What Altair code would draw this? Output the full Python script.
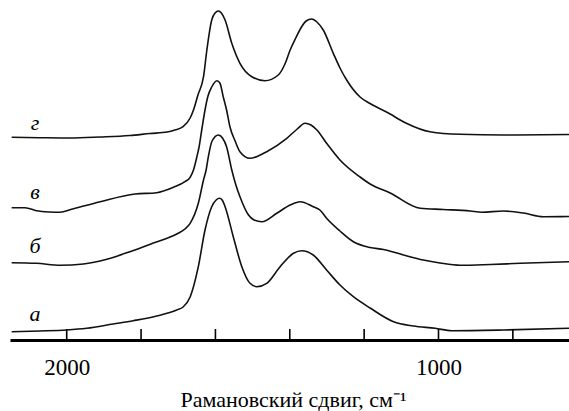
import altair as alt
import pandas as pd

# Raman shift (cm^-1) and intensity (arbitrary units)
wn_g = [2148, 2072, 1991, 1910, 1830, 1776, 1730, 1709, 1687, 1668, 1659, 1647, 1632, 1623, 1610, 1601,
        1592, 1584, 1574, 1556, 1534, 1502, 1467, 1431, 1413, 1399, 1384, 1368, 1356, 1341, 1327, 1310,
        1283, 1265, 1247, 1211, 1184, 1130, 1103, 1085, 1023, 942, 825, 649]
in_g = [202.7, 202.3, 202, 203, 204.5, 206.5, 208, 210, 213.3, 222, 230, 245, 263.3, 290, 320, 327,
        329, 327, 320, 296.7, 276.7, 263.3, 259.3, 265, 276, 290, 302, 313.3, 319, 321, 318, 310,
        286.7, 272, 260, 243, 236.5, 226, 220, 216.5, 208.3, 205.7, 205, 205.5]

wn_v = [2148, 2112, 2081, 2045, 2018, 1987, 1910, 1816, 1758, 1713, 1682, 1668, 1659, 1650, 1644, 1636,
        1628, 1620, 1610, 1596, 1588, 1579, 1570, 1561, 1547, 1534, 1507, 1485, 1462, 1408, 1380, 1359,
        1343, 1327, 1301, 1265, 1211, 1184, 1130, 1049, 987, 915, 884, 825, 772, 718, 649]
in_v = [132.3, 132.3, 129.3, 128, 127.7, 130.7, 138.3, 146, 147.3, 152.7, 158.3, 162.7, 170, 183, 193, 212,
        230, 244, 253, 259.3, 257, 243.3, 230, 213.3, 199, 188.3, 181.7, 184, 188.3, 201.7, 211, 216.7,
        215, 210, 196.7, 180, 163, 156, 147, 131.7, 130.5, 129, 127.7, 129, 127, 123.3, 123.5]

wn_b = [2148, 2081, 2018, 1955, 1892, 1830, 1767, 1704, 1682, 1668, 1646, 1632, 1625, 1619, 1609, 1592,
        1581, 1570, 1556, 1545, 1534, 1511, 1496, 1475, 1435, 1399, 1372, 1337, 1319, 1301, 1265, 1229,
        1184, 1148, 1094, 1041, 996, 942, 861, 780, 649]
in_b = [77.3, 76.7, 74.8, 76, 80.7, 88.3, 97, 106, 111, 116.7, 136.7, 160, 170, 183.3, 199, 205,
        202, 193.3, 170, 155, 143.3, 125, 120, 118.3, 126.7, 135, 138.3, 133.3, 130, 121.7, 109, 98.3,
        92.5, 90.5, 85, 80, 77, 74.7, 75.5, 76.7, 78.3]

wn_a = [2148, 2072, 2000, 1946, 1875, 1821, 1758, 1704, 1687, 1668, 1646, 1628, 1610, 1598, 1589, 1582,
        1574, 1552, 1529, 1507, 1489, 1462, 1426, 1390, 1368, 1337, 1301, 1265, 1229, 1184, 1121, 1068,
        1009, 964, 825, 649]
in_a = [8.3, 9, 10, 11.7, 16, 19.3, 24, 30, 33, 43, 73.3, 110, 133.3, 140, 141.7, 140,
        133.3, 103.3, 73.3, 56.7, 53.3, 56.7, 73.3, 86.7, 89.3, 85, 70, 55, 43.3, 32, 18.3, 14,
        11.7, 9.3, 10, 11.7]

curve_letters = ["а", "б", "в", "г"]
label_wn = [2085, 2085, 2085, 2085]
label_in = [19, 86.7, 140.7, 210.5]

tick_values = [2000, 1800, 1600, 1400, 1200, 1000, 800]
label_values = [2000, 1000]

SERIF = "Liberation Serif"

rows = []
for name, wns, ins in [("а", wn_a, in_a), ("б", wn_b, in_b), ("в", wn_v, in_v), ("г", wn_g, in_g)]:
    for w, i in zip(wns, ins):
        rows.append({"series": name, "wn": w, "val": i})
df = pd.DataFrame(rows)
lab = pd.DataFrame({"letter": curve_letters, "wn": label_wn, "val": label_in})
ticks = pd.DataFrame({"wn": tick_values})

xscale = alt.Scale(domain=[2152.5, 649], nice=False, zero=False)
yscale = alt.Scale(domain=[0, 340], nice=False, zero=False)

xaxis = alt.Axis(
    values=label_values, ticks=False, grid=False, domainColor="black", domainWidth=3,
    labelFont=SERIF, labelFontSize=23, labelColor="black", labelPadding=16,
    labelFlush=False, format="d",
    title="Рамановский сдвиг, см⁻¹", titleFont=SERIF, titleFontSize=22,
    titleFontWeight="normal", titleColor="black", titleY=66, titleBaseline="alphabetic", titleX=283,
)

lines = alt.Chart(df).mark_line(interpolate="monotone", color="#111111", strokeWidth=1.6, clip=True).encode(
    x=alt.X("wn:Q", scale=xscale, axis=xaxis),
    y=alt.Y("val:Q", scale=yscale, axis=None),
    detail="series:N",
    order="wn:Q",
)

tick_marks = alt.Chart(ticks).mark_rule(color="black", strokeWidth=1.6).encode(
    x=alt.X("wn:Q", scale=xscale),
    y=alt.value(340),
    y2=alt.value(329),
)

labels = alt.Chart(lab).mark_text(
    font=SERIF, fontSize=22, fontStyle="italic", color="black",
    align="center", baseline="alphabetic",
).encode(
    x=alt.X("wn:Q", scale=xscale),
    y=alt.Y("val:Q", scale=yscale),
    text="letter:N",
)

chart = alt.layer(lines, tick_marks, labels).properties(
    width=559, height=340,
    padding={"left": 10, "top": 0, "right": 0, "bottom": 71},
    autosize=alt.AutoSizeParams(type="none"),
).configure(font=SERIF).configure_view(stroke=None)

chart.save("out.html", embed_options={"renderer": "svg", "actions": False})
